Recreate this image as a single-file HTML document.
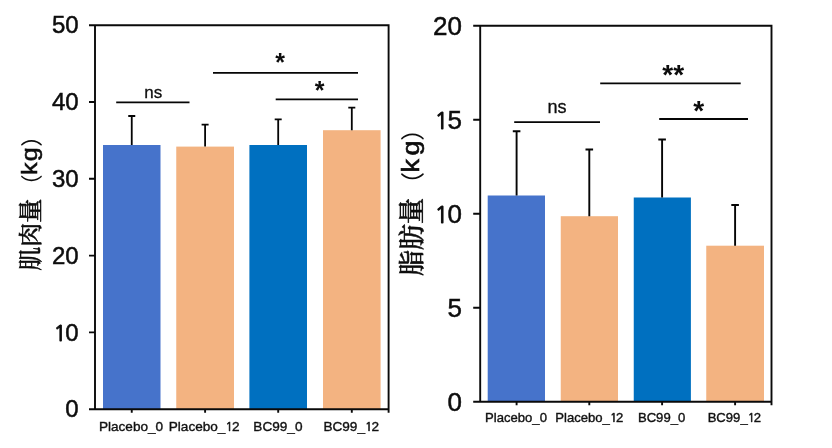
<!DOCTYPE html>
<html lang="zh"><head><meta charset="utf-8"><title>chart</title>
<style>
html,body{margin:0;padding:0;background:#fff;}
body{width:832px;height:448px;overflow:hidden;}
svg{display:block;}
text{font-family:"Liberation Sans","Noto Sans CJK SC",sans-serif;fill:#0d0d0d;}
text.cjk{font-family:"Liberation Serif","Noto Serif CJK SC",serif;}
text .one{font-family:"NanumGothic","Liberation Sans",sans-serif;stroke-width:1px;font-size:0.89em;letter-spacing:-1.1px;}
text .one2{font-family:"NanumGothic","Liberation Sans",sans-serif;stroke-width:0.65px;font-size:0.89em;letter-spacing:-0.9px;}
text.par{font-family:"Noto Sans CJK SC","Liberation Sans",sans-serif;}
</style></head><body>
<svg width="832" height="448" viewBox="0 0 832 448">
<rect width="832" height="448" fill="#ffffff"/>
<rect x="103" y="145" width="57.5" height="264.2" fill="#4673CB"/>
<rect x="176.25" y="146.6" width="57.75" height="262.6" fill="#F3B381"/>
<rect x="249.4" y="145" width="57.6" height="264.2" fill="#0070C0"/>
<rect x="323" y="130.2" width="57.6" height="279" fill="#F3B381"/>
<path d="M131.75 145V116M128.25 116H135.25" stroke="#050505" stroke-width="1.8" fill="none"/>
<path d="M205.1 146.6V124.7M201.6 124.7H208.6" stroke="#050505" stroke-width="1.8" fill="none"/>
<path d="M278.2 145V119.4M274.7 119.4H281.7" stroke="#050505" stroke-width="1.8" fill="none"/>
<path d="M351.8 130.2V107.6M348.3 107.6H355.3" stroke="#050505" stroke-width="1.8" fill="none"/>
<path d="M95 25.2H388.6V412.8M95 25.2V409.2M89 409.2H388.6M89 332.4H95M89 255.6H95M89 178.8H95M89 102H95M89 25.2H95M89 25.2H95M131.75 409.2V412.8M205.1 409.2V412.8M278.2 409.2V412.8M351.8 409.2V412.8" stroke="#0a0a0a" stroke-width="1.9" fill="none"/>
<path d="M116.2 102.4H189.5M213 72.8H358M275.7 99.3H358" stroke="#050505" stroke-width="1.7" fill="none"/>
<text x="78.6" y="417.3" font-size="24" text-anchor="end" stroke="#0d0d0d" stroke-width="0.5">0</text>
<text x="78.6" y="340.5" font-size="24" text-anchor="end" stroke="#0d0d0d" stroke-width="0.5"><tspan class="one">1</tspan>0</text>
<text x="78.6" y="263.7" font-size="24" text-anchor="end" stroke="#0d0d0d" stroke-width="0.5">20</text>
<text x="78.6" y="186.9" font-size="24" text-anchor="end" stroke="#0d0d0d" stroke-width="0.5">30</text>
<text x="78.6" y="110.1" font-size="24" text-anchor="end" stroke="#0d0d0d" stroke-width="0.5">40</text>
<text x="78.6" y="33.3" font-size="24" text-anchor="end" stroke="#0d0d0d" stroke-width="0.5">50</text>
<text x="131.05" y="430.5" font-size="13.6" text-anchor="middle" fill="#1a1a1a" stroke="#1a1a1a" stroke-width="0.4">Placebo_0</text>
<text x="204.1" y="430.5" font-size="13.6" text-anchor="middle" fill="#1a1a1a" stroke="#1a1a1a" stroke-width="0.4">Placebo_<tspan class="one2">1</tspan>2</text>
<text x="277.9" y="430.5" font-size="13.6" text-anchor="middle" fill="#1a1a1a" stroke="#1a1a1a" stroke-width="0.4">BC99_0</text>
<text x="351.2" y="430.5" font-size="13.6" text-anchor="middle" fill="#1a1a1a" stroke="#1a1a1a" stroke-width="0.4">BC99_<tspan class="one2">1</tspan>2</text>
<text x="153.2" y="97.6" font-size="17" text-anchor="middle" font-weight="normal" fill="#111" stroke="#111" stroke-width="0.3">ns</text>
<text x="280.1" y="71.2" font-size="25" text-anchor="middle" font-weight="bold" fill="#111" stroke="#111" stroke-width="0">*</text>
<text x="319.6" y="99.4" font-size="25" text-anchor="middle" font-weight="bold" fill="#111" stroke="#111" stroke-width="0">*</text>
<g transform="translate(37.5 271) rotate(-90)"><text x="0.3" y="1.5" font-size="24" font-weight="500" class="cjk" stroke="#0d0d0d" stroke-width="0.55" letter-spacing="0">肌肉量</text><text x="74.4" y="1.7" font-size="22" class="par">（</text><g transform="translate(96.1 -0.4) scale(1.12 1)"><text x="0" y="0" font-size="22.5" stroke="#0d0d0d" stroke-width="0.55" letter-spacing="1.0">kg</text></g><text x="124.2" y="1.7" font-size="22" class="par">）</text></g>
<rect x="487.7" y="195.5" width="57.3" height="206.2" fill="#4673CB"/>
<rect x="560.75" y="216.2" width="57.25" height="185.5" fill="#F3B381"/>
<rect x="633.75" y="197.5" width="57.15" height="204.2" fill="#0070C0"/>
<rect x="706.25" y="245.7" width="57.75" height="156" fill="#F3B381"/>
<path d="M516.6 195.5V131.2M512.8 131.2H520.4" stroke="#050505" stroke-width="1.9" fill="none"/>
<path d="M589.3 216.2V149.5M585.5 149.5H593.1" stroke="#050505" stroke-width="1.9" fill="none"/>
<path d="M662.1 197.5V139.5M658.3 139.5H665.9" stroke="#050505" stroke-width="1.9" fill="none"/>
<path d="M735.1 245.7V205M731.3 205H738.9" stroke="#050505" stroke-width="1.9" fill="none"/>
<path d="M480.2 25.8H771.5V405.3M480.2 25.8V401.7M473.2 401.7H771.5M473.2 307.73H480.2M473.2 213.75H480.2M473.2 119.77H480.2M473.2 25.8H480.2M473.2 25.8H480.2M516.6 401.7V405.3M589.3 401.7V405.3M662.1 401.7V405.3M735.1 401.7V405.3" stroke="#0a0a0a" stroke-width="1.9" fill="none"/>
<path d="M514.2 122.2H600M600.2 83.4H740.7M659.2 119H748" stroke="#050505" stroke-width="1.8" fill="none"/>
<text x="462" y="410.9" font-size="26" text-anchor="end" stroke="#0d0d0d" stroke-width="0.5">0</text>
<text x="462" y="316.93" font-size="26" text-anchor="end" stroke="#0d0d0d" stroke-width="0.5">5</text>
<text x="462" y="222.95" font-size="26" text-anchor="end" stroke="#0d0d0d" stroke-width="0.5"><tspan class="one">1</tspan>0</text>
<text x="462" y="128.97" font-size="26" text-anchor="end" stroke="#0d0d0d" stroke-width="0.5"><tspan class="one">1</tspan>5</text>
<text x="462" y="35" font-size="26" text-anchor="end" stroke="#0d0d0d" stroke-width="0.5">20</text>
<text x="516" y="422.3" font-size="13.1" text-anchor="middle" fill="#1a1a1a" stroke="#1a1a1a" stroke-width="0.4">Placebo_0</text>
<text x="589.3" y="422.3" font-size="13.1" text-anchor="middle" fill="#1a1a1a" stroke="#1a1a1a" stroke-width="0.4">Placebo_<tspan class="one2">1</tspan>2</text>
<text x="661.6" y="422.3" font-size="13.1" text-anchor="middle" fill="#1a1a1a" stroke="#1a1a1a" stroke-width="0.4">BC99_0</text>
<text x="734.4" y="422.3" font-size="13.1" text-anchor="middle" fill="#1a1a1a" stroke="#1a1a1a" stroke-width="0.4">BC99_<tspan class="one2">1</tspan>2</text>
<text x="557.1" y="112.5" font-size="18.1" text-anchor="middle" font-weight="normal" fill="#111" stroke="#111" stroke-width="0.3">ns</text>
<text x="673.2" y="83.7" font-size="28" text-anchor="middle" font-weight="bold" fill="#111" stroke="#111" stroke-width="0">**</text>
<text x="698.7" y="120" font-size="28" text-anchor="middle" font-weight="bold" fill="#111" stroke="#111" stroke-width="0">*</text>
<g transform="translate(419 277) rotate(-90)"><text x="1" y="1.5" font-size="26" font-weight="500" class="cjk" stroke="#0d0d0d" stroke-width="0.6" letter-spacing="0">脂肪量</text><text x="80.9" y="1.8" font-size="24" class="par">（</text><g transform="translate(104.5 -0.4) scale(1.12 1)"><text x="0" y="0" font-size="24" stroke="#0d0d0d" stroke-width="0.6" letter-spacing="3.1">kg</text></g><text x="136.3" y="1.8" font-size="24" class="par">）</text></g>
</svg>
</body></html>
